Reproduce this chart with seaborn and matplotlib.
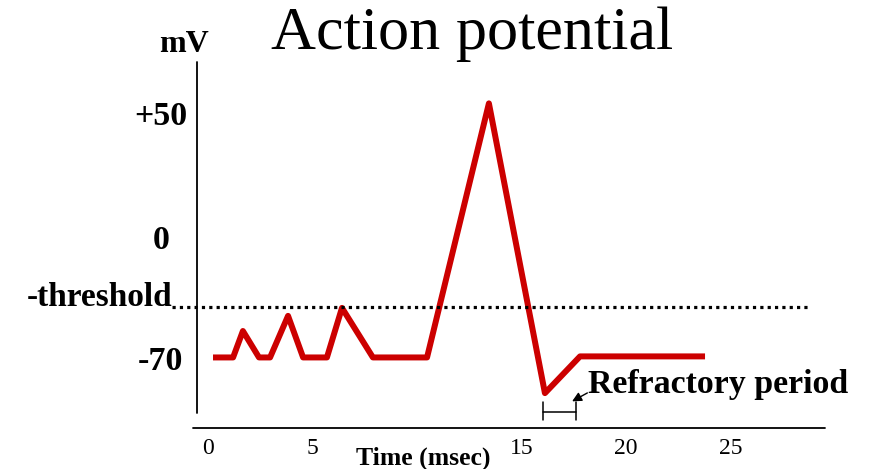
import numpy as np
import pandas as pd
import matplotlib
matplotlib.use("Agg")
import matplotlib.pyplot as plt
import seaborn as sns

# trace (time in msec, membrane potential in mV, cartoon scale)
time_ms = [0.24, 1.2, 1.67, 2.44, 2.97, 3.83, 4.55, 5.69, 6.41, 7.89, 10.48, 13.44, 16.12, 17.8, 23.78]
volt_mv = [-70, -70, -57.4, -70, -70, -50.2, -70, -70, -46.4, -70, -70, 51, -87, -69.5, -69.5]

threshold_mv = -46
x_ticks = [0, 5, 15, 20, 25]
x_labels = ["0", "5", "15", "20", "25"]
y_ticks = [46.4, -12.6, -70.2]
y_labels = ["+50", "0", "-70"]
refractory = [16.05, 17.6]

df = pd.DataFrame({"time": time_ms, "mv": volt_mv})

sns.set_style("white")
plt.rcParams["font.family"] = ["Liberation Serif", "DejaVu Serif"]
plt.rcParams["text.color"] = "black"
plt.rcParams["xtick.color"] = "black"
plt.rcParams["ytick.color"] = "black"

W, H = 869, 469
fig = plt.figure(figsize=(W / 100, H / 100), dpi=100)
ax = fig.add_axes([197 / W, (H - 428) / H, 628 / W, 366 / H])

sns.lineplot(data=df, x="time", y="mv", ax=ax, color="#cc0000", lw=4.3,
             sort=False, estimator=None)
for ln in ax.get_lines():
    ln.set_solid_joinstyle("round")
    ln.set_solid_capstyle("butt")

ax.set_xlim(-0.526, 29.52)
ax.set_ylim(-103.6, 70.7)
for s in ax.spines.values():
    s.set_visible(False)

# hand-drawn looking axes
ax.plot([0, 0], [15 / 366, 1], transform=ax.transAxes, color="black", lw=1.3, clip_on=False)
ax.plot([-4 / 628, 1], [0, 0], transform=ax.transAxes, color="black", lw=1.3, clip_on=False)

# threshold
ax.plot([-25 / 628, 612 / 628], [threshold_mv, threshold_mv], transform=ax.get_yaxis_transform(),
        color="black", lw=2.3, ls=(0, (1, 1.3)), dash_capstyle="butt", clip_on=False)
ax.text(-25 / 628, threshold_mv + 0.3, "-threshold", transform=ax.get_yaxis_transform(),
        ha="right", va="baseline", fontsize=24, fontweight="bold")

ax.set_xticks(x_ticks)
ax.set_xticklabels(x_labels, fontsize=17)
ax.set_yticks(y_ticks)
ax.set_yticklabels(y_labels, fontsize=24.5, fontweight="bold")
ax.tick_params(axis="x", length=0, pad=7, labelcolor="black")
ax.tick_params(axis="y", length=0, pad=26, labelcolor="black")
for lab in ax.get_yticklabels():
    lab.set_horizontalalignment("center")
ax.set_xlabel("")
ax.set_ylabel("")

ax.text(12 / 628, 1 + 10 / 366, "mV", transform=ax.transAxes, ha="right", va="baseline",
        fontsize=23, fontweight="bold")
ax.text((423 - 197) / 628, -37 / 366, "Time (msec)", transform=ax.transAxes, ha="center",
        va="baseline", fontsize=18.5, fontweight="bold")

fig.text(472 / W, 1 - 49 / H, "Action potential", ha="center", va="baseline", fontsize=44.8)

# refractory period bracket + label
yb = -96
ax.plot(refractory, [yb, yb], color="black", lw=1.1, clip_on=False)
for xr in refractory:
    ax.plot([xr, xr], [yb + 4.6, yb - 3.8], color="black", lw=1.1, clip_on=False)
ax.text(18.18, -87.1, "Refractory period", fontsize=24.4, fontweight="bold",
        va="baseline", ha="left")
ax.annotate("", xy=(17.42, -90.9), xytext=(18.15, -86.9),
            arrowprops=dict(arrowstyle="-|>", color="black", lw=1.0, mutation_scale=14,
                            shrinkA=0, shrinkB=0))

fig.savefig("out.png", dpi=100)
